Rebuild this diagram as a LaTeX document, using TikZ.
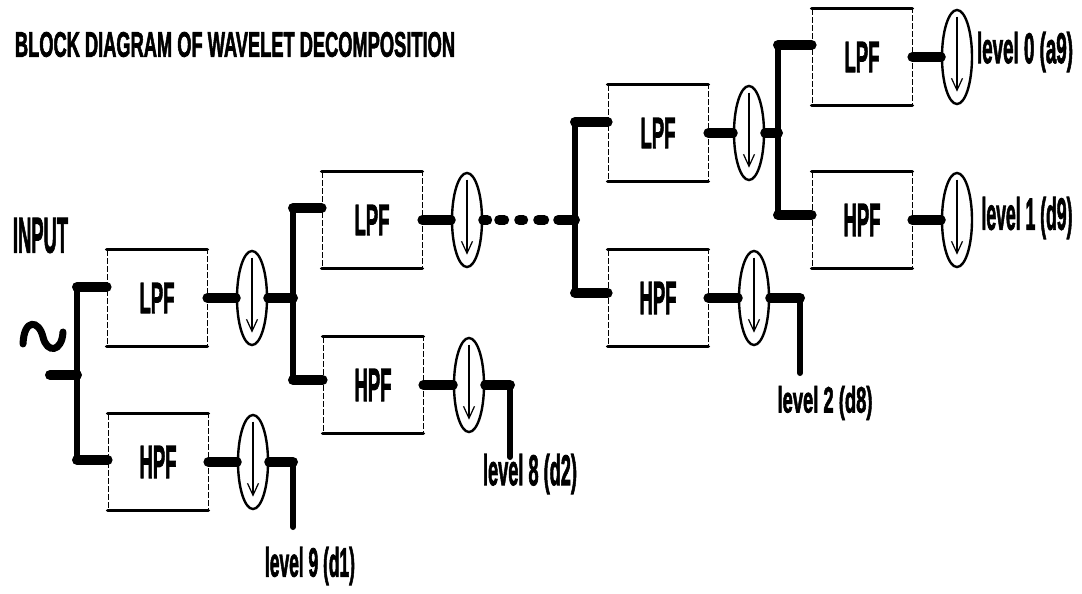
\documentclass[tikz,border=0pt]{standalone}
\usepackage{fontspec}
\setmainfont{Liberation Sans}[BoldFeatures={FakeBold=2.5}]
\usepackage{graphicx}
\usetikzlibrary{shapes.geometric,arrows.meta,calc}
\newcommand\sqzt[3]{\resizebox*{#1pt}{#2pt}{\bfseries #3}}
\begin{document}
\begin{tikzpicture}[x=1pt,y=-1pt,
  filt/.style={draw, line width=0.8pt, dash pattern=on 6pt off 2pt, minimum width=100pt, minimum height=96pt, inner sep=0pt},
  edgebar/.style={line width=3.5pt, line cap=round},
  dsamp/.style={ellipse, draw, line width=2.4pt, minimum width=30pt, minimum height=94pt, inner sep=0pt},
  dsarrow/.style={line width=1.2pt, -{Straight Barb[length=12pt,width=11pt]}},
  wire/.style={line width=10pt, line cap=round},
  vwire/.style={line width=6pt, line cap=round},
  lbl/.style={inner sep=0pt}]
\useasboundingbox (0,0) rectangle (1082,594);

% title and input
\node[lbl] (title) at (235,44.5) {\sqzt{440}{25}{BLOCK DIAGRAM OF WAVELET DECOMPOSITION}};
\node[lbl] (input) at (40.5,235.5) {\sqzt{55}{35}{INPUT}};
\draw[line width=7pt, line cap=round] (23,344) .. controls (24,318) and (39,320) .. (43,337) .. controls (47,354) and (62,352) .. (63,332);

% filters
\node[filt] (L1) at (157,298) {\sqzt{35}{30}{LPF}};
\node[filt] (H1) at (158,462) {\sqzt{37}{32}{HPF}};
\node[filt] (L2) at (372,220) {\sqzt{35}{30}{LPF}};
\node[filt] (H2) at (373,385) {\sqzt{37}{32}{HPF}};
\node[filt] (L3) at (658,133) {\sqzt{35}{30}{LPF}};
\node[filt] (H3) at (658,298) {\sqzt{37}{32}{HPF}};
\node[filt] (L4) at (862,57) {\sqzt{35}{30}{LPF}};
\node[filt] (H4) at (862,220) {\sqzt{37}{32}{HPF}};
\foreach \n in {L1,H1,L2,H2,L3,H3,L4,H4}
  \draw[edgebar] (\n.north west) -- (\n.north east) (\n.south west) -- (\n.south east);

% downsamplers
\node[dsamp] (E1) at (252,298) {};
\node[dsamp] (EH1) at (253,462) {};
\node[dsamp] (E2) at (467,220) {};
\node[dsamp] (EH2) at (469,385) {};
\node[dsamp] (E3) at (749,133) {};
\node[dsamp] (EH3) at (754,298) {};
\node[dsamp] (E4) at (957,57) {};
\node[dsamp] (EH4) at (957,220) {};
\foreach \n in {E1,EH1,E2,EH2,E3,EH3,E4,EH4}
  \draw[dsarrow] ($(\n.north)!0.08!(\n.south)$) -- ($(\n.north)!0.86!(\n.south)$);

% junction coordinates
\coordinate (in0) at (50,375);
\coordinate (inJ) at (77,375);
\coordinate (inT) at (77,287);
\coordinate (inB) at (77,460);
\coordinate (j1) at (293,298);
\coordinate (j1T) at (293,208);
\coordinate (j1B) at (293,380);
\coordinate (c1) at (293,462);
\coordinate (c1e) at (293,527);
\coordinate (j2) at (575,220);
\coordinate (j2T) at (575,122);
\coordinate (j2B) at (575,293);
\coordinate (c2) at (510,385);
\coordinate (c2e) at (510,457);
\coordinate (j3) at (778,133);
\coordinate (j3T) at (778,45);
\coordinate (j3B) at (778,215);
\coordinate (c3) at (800,298);
\coordinate (c3e) at (800,373);

% input tree
\draw[wire] (in0) -- (inJ);
\draw[vwire] (inT) -- (inB);
\draw[wire] (inT) -- (L1.west |- inT);
\draw[wire] (inB) -- (H1.west |- inB);

% level 1
\draw[wire] (L1.east) -- (E1.west);
\draw[wire] (E1.east) -- (j1);
\draw[vwire] (j1T) -- (j1B);
\draw[wire] (j1T) -- (L2.west |- j1T);
\draw[wire] (j1B) -- (H2.west |- j1B);
\draw[wire] (H1.east) -- (EH1.west);
\draw[wire] (EH1.east) -- (c1);
\draw[vwire] (c1) -- (c1e);

% level 2 (dashed continuation)
\draw[wire] (L2.east) -- (E2.west);
\draw[wire] (E2.east) -- ($(E2.east)+(4,0)$)
  ($(E2.east)+(16,0)$) -- ($(E2.east)+(21,0)$)
  ($(E2.east)+(36,0)$) -- ($(E2.east)+(40,0)$)
  ($(E2.east)+(55,0)$) -- ($(E2.east)+(61,0)$)
  ($(E2.east)+(75,0)$) -- (j2);
\draw[vwire] (j2T) -- (j2B);
\draw[wire] (j2T) -- (L3.west |- j2T);
\draw[wire] (j2B) -- (H3.west |- j2B);
\draw[wire] (H2.east) -- (EH2.west);
\draw[wire] (EH2.east) -- (c2);
\draw[vwire] (c2) -- (c2e);

% level 3
\draw[wire] (L3.east) -- (E3.west);
\draw[wire] (E3.east) -- (j3);
\draw[vwire] (j3T) -- (j3B);
\draw[wire] (j3T) -- (L4.west |- j3T);
\draw[wire] (j3B) -- (H4.west |- j3B);
\draw[wire] (H3.east) -- (EH3.west);
\draw[wire] (EH3.east) -- (c3);
\draw[vwire] (c3) -- (c3e);

% level 4
\draw[wire] (L4.east |- E4.west) -- (E4.west);
\draw[wire] (H4.east) -- (EH4.west);

% labels
\node[lbl] (o9) at (310,566) {\sqzt{90}{38}{level 9 (d1)}};
\node[lbl] (o8) at (530,474) {\sqzt{94}{40}{level 8 (d2)}};
\node[lbl] (o2) at (825,403) {\sqzt{95}{34}{level 2 (d8)}};
\node[lbl] (o0) at (1025,52) {\sqzt{96}{40}{level 0 (a9)}};
\node[lbl] (o1) at (1027,218) {\sqzt{91}{42}{level 1 (d9)}};
\end{tikzpicture}
\end{document}
